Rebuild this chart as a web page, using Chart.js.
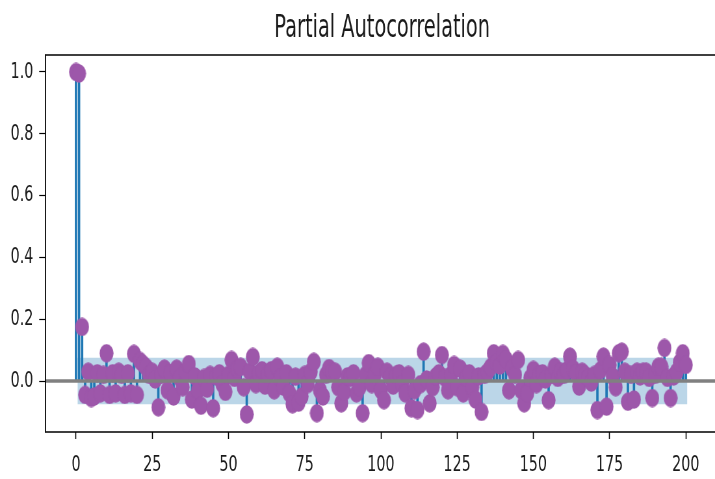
<!DOCTYPE html>
<html>
<head>
<meta charset="utf-8">
<script src="https://cdn.jsdelivr.net/npm/chart.js@4.4.1/dist/chart.umd.min.js"></script>
<style>
  html, body { margin: 0; padding: 0; background: #fff; }
  #frame { width: 715px; height: 479px; overflow: hidden; position: relative; }
  #stretch { width: 1112px; height: 479px; transform: scaleX(0.65); transform-origin: 0 0; }
  canvas { display: block; }
</style>
</head>
<body>
<div id="frame"><div id="stretch"><canvas id="pacf" width="1112" height="479"></canvas></div></div>
<script>
// Partial autocorrelation coefficients, lags 0..200
const pacfValues = [
  1.0, 0.995, 0.175, -0.045, 0.03, -0.055, -0.05, 0.025, -0.04, 0.02,
  0.09, -0.045, 0.025, -0.04, 0.03, 0.02, -0.045, 0.025, -0.04, 0.088,
  -0.045, 0.065, 0.055, 0.045, 0.02, 0.03, 0.005, -0.085, 0.02, 0.04,
  -0.03, 0.025, -0.05, 0.04, 0.01, -0.02, 0.03, 0.055, -0.06, 0.015,
  -0.03, -0.08, 0.01, -0.025, 0.02, -0.088, 0.015, 0.025, -0.01, -0.035,
  0.02, 0.068, 0.01, 0.04, 0.046, -0.02, -0.108, 0.03, 0.078, -0.01,
  0.025, 0.035, -0.015, 0.02, 0.035, -0.03, 0.046, 0.01, -0.018, 0.025,
  -0.04, -0.075, 0.014, -0.07, -0.05, 0.02, -0.01, 0.03, 0.062, -0.104,
  -0.03, -0.05, 0.02, 0.042, 0.03, 0.03, -0.02, -0.072, -0.035, 0.015,
  0.01, 0.025, -0.04, -0.02, -0.104, 0.02, 0.058, -0.01, 0.02, 0.046,
  -0.03, -0.062, 0.03, 0.013, -0.015, 0.02, 0.025, -0.01, -0.04, 0.02,
  -0.088, -0.03, -0.094, -0.01, 0.095, 0.005, -0.072, -0.02, 0.015, 0.025,
  0.084, 0.01, -0.03, 0.02, 0.052, -0.02, 0.04, -0.04, 0.01, 0.025,
  -0.02, -0.06, 0.015, -0.1, 0.02, 0.03, 0.045, 0.09, 0.06, 0.05,
  0.088, 0.07, -0.03, 0.04, 0.02, 0.068, -0.03, -0.072, -0.04, 0.01,
  0.036, -0.01, 0.02, 0.025, 0.005, -0.062, 0.02, 0.046, 0.01, 0.03,
  0.02, 0.035, 0.079, 0.04, 0.025, -0.018, 0.03, 0.02, 0.01, -0.005,
  0.02, -0.094, 0.035, 0.079, -0.083, 0.052, 0.015, -0.02, 0.09, 0.095,
  0.03, -0.067, 0.02, -0.06, 0.03, 0.015, 0.03, 0.03, 0.01, -0.055,
  0.02, 0.046, 0.046, 0.107, 0.01, -0.055, 0.015, 0.03, 0.06, 0.09,
  0.052
];
const lags = pacfValues.map((_, i) => i);

// 95% confidence limits (±) and the lag span they cover
const confLimit = [0.075];
const confSpan = [0.5, 200.5];

// Axis ticks and title
const xTickValues = [0, 25, 50, 75, 100, 125, 150, 175, 200];
const yTickValues = [0.0, 0.2, 0.4, 0.6, 0.8, 1.0];
const chartTitle = 'Partial Autocorrelation';

const STEM = '#1f77b4';
const MARKER = '#9d57aa';

// Elliptical marker sprite (canvas is squeezed horizontally by the wrapper)
function makeMarker(w, h, color) {
  const c = document.createElement('canvas');
  c.width = w; c.height = h;
  const g = c.getContext('2d');
  g.fillStyle = color;
  g.beginPath();
  g.ellipse(w / 2, h / 2, w / 2 - 0.3, h / 2 - 0.3, 0, 0, Math.PI * 2);
  g.fill();
  return c;
}
const markerImg = makeMarker(22, 19, MARKER);

const pts = lags.map((l, i) => ({ x: l, y: pacfValues[i] }));

const framePlugin = {
  id: 'axesFrame',
  afterDraw(chart) {
    const { ctx, chartArea: a } = chart;
    ctx.save();
    ctx.strokeStyle = '#000';
    // top and bottom spines
    ctx.lineWidth = 1.3;
    ctx.beginPath();
    ctx.moveTo(a.left, a.top); ctx.lineTo(a.right, a.top);
    ctx.moveTo(a.left, a.bottom); ctx.lineTo(a.right, a.bottom);
    ctx.stroke();
    // side spines
    ctx.lineWidth = 1.8;
    ctx.beginPath();
    ctx.moveTo(a.left, a.top - 0.65); ctx.lineTo(a.left, a.bottom + 0.65);
    ctx.moveTo(a.right, a.top - 0.65); ctx.lineTo(a.right, a.bottom + 0.65);
    ctx.stroke();
    // title
    ctx.fillStyle = '#1a1a1a';
    ctx.font = '32px "DejaVu Sans"';
    ctx.textAlign = 'center';
    ctx.textBaseline = 'alphabetic';
    ctx.translate((a.left + a.right) / 2 + 2, 36.5);
    ctx.scale(0.93, 1);
    ctx.fillText(chartTitle, 0, 0);
    ctx.restore();
  }
};

new Chart(document.getElementById('pacf'), {
  type: 'bar',
  data: {
    datasets: [
      {
        type: 'line',
        data: [{ x: confSpan[0], y: confLimit[0] }, { x: confSpan[1], y: confLimit[0] }],
        fill: { value: -confLimit[0] },
        backgroundColor: 'rgba(31,119,180,0.30)',
        borderWidth: 0,
        pointRadius: 0,
        order: 4
      },
      {
        type: 'bar',
        data: pts,
        backgroundColor: STEM,
        borderWidth: 0,
        barThickness: 3,
        grouped: false,
        order: 3
      },
      {
        type: 'scatter',
        data: pts,
        pointStyle: markerImg,
        pointRadius: 9,
        showLine: false,
        order: 2
      },
      {
        type: 'line',
        data: [{ x: -10, y: 0 }, { x: 210, y: 0 }],
        borderColor: '#808080',
        borderWidth: 3.5,
        pointRadius: 0,
        fill: false,
        order: 1
      }
    ]
  },
  options: {
    responsive: false,
    animation: false,
    devicePixelRatio: 1,
    layout: { padding: { top: 55, right: 2, left: 0, bottom: 0 } },
    plugins: { legend: { display: false }, tooltip: { enabled: false }, title: { display: false } },
    scales: {
      x: {
        type: 'linear',
        min: -10,
        max: 210,
        offset: false,
        afterBuildTicks: s => { s.ticks = xTickValues.map(v => ({ value: v })); },
        afterFit: s => { s.height = 47; },
        grid: { display: true, offset: false, drawOnChartArea: false, drawTicks: true, tickLength: 7, tickColor: '#000', tickWidth: 1.6 },
        border: { display: false },
        ticks: {
          color: '#1a1a1a',
          padding: 13,
          maxRotation: 0,
          autoSkip: false,
          font: { family: 'DejaVu Sans', size: 22 },
          callback: v => String(v)
        }
      },
      y: {
        type: 'linear',
        min: -0.165,
        max: 1.055,
        afterBuildTicks: s => { s.ticks = yTickValues.map(v => ({ value: v })); },
        afterFit: s => { s.width = 70; },
        grid: { display: true, drawOnChartArea: false, drawTicks: true, tickLength: 9.7, tickColor: '#000', tickWidth: 1.2 },
        border: { display: false },
        ticks: {
          color: '#1a1a1a',
          padding: 9,
          autoSkip: false,
          font: { family: 'DejaVu Sans', size: 22 },
          callback: v => v.toFixed(1)
        }
      }
    }
  },
  plugins: [framePlugin]
});
</script>
</body>
</html>
